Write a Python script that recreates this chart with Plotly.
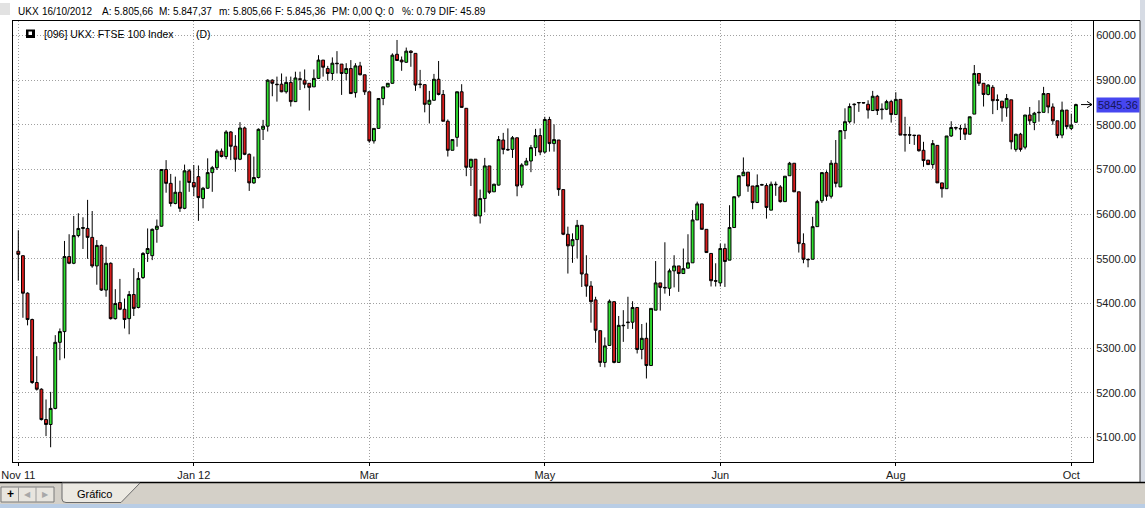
import plotly.graph_objects as go

# ---------------- data ----------------
opens = [
    5517, 5507, 5423, 5364, 5223, 5208, 5140, 5129, 5165, 5313,
    5337, 5505, 5490, 5552, 5568, 5568, 5548, 5484, 5530, 5430,
    5490, 5366, 5402, 5387, 5366, 5420, 5391, 5458, 5512, 5507,
    5566, 5573, 5700, 5669, 5624, 5649, 5613, 5697, 5671, 5684,
    5635, 5658, 5693, 5704, 5741, 5729, 5784, 5752, 5723, 5793,
    5734, 5670, 5682, 5790, 5797, 5900, 5891, 5891, 5874, 5895,
    5852, 5903, 5900, 5893, 5885, 5904, 5945, 5926, 5915, 5938,
    5936, 5915, 5926, 5872, 5932, 5912, 5874, 5764, 5792, 5859,
    5885, 5893, 5958, 5945, 5940, 5965, 5960, 5890, 5890, 5846,
    5855, 5902, 5868, 5808, 5743, 5772, 5874, 5837, 5705, 5723,
    5596, 5635, 5708, 5650, 5665, 5766, 5745, 5745, 5771, 5665,
    5710, 5719, 5749, 5776, 5739, 5812, 5758, 5766, 5655, 5555,
    5529, 5543, 5575, 5466, 5439, 5408, 5339, 5268, 5306, 5404,
    5268, 5350, 5357, 5358, 5391, 5297, 5322, 5261, 5385, 5446,
    5436, 5434, 5473, 5484, 5467, 5479, 5491, 5587, 5623, 5566,
    5512, 5451, 5446, 5523, 5497, 5570, 5641, 5686, 5694, 5663,
    5626, 5665, 5664, 5609, 5667, 5661, 5628, 5686, 5714, 5650,
    5534, 5499, 5499, 5572, 5630, 5693, 5640, 5714, 5661, 5787,
    5807, 5845, 5849, 5850, 5846, 5832, 5864, 5834, 5835, 5852,
    5823, 5857, 5777, 5778, 5777, 5777, 5743, 5721, 5711, 5754,
    5670, 5657, 5775, 5794, 5792, 5792, 5779, 5824, 5915, 5893,
    5868, 5884, 5856, 5853, 5838, 5856, 5745, 5779, 5750, 5822,
    5805, 5827, 5828, 5870, 5840, 5809, 5777, 5833, 5792, 5805.66,
]
highs = [
    5564, 5507, 5425, 5366, 5282, 5210, 5185, 5202, 5329, 5344,
    5540, 5555, 5596, 5602, 5593, 5632, 5607, 5542, 5532, 5527,
    5492, 5432, 5455, 5411, 5428, 5479, 5470, 5515, 5568, 5568,
    5588, 5700, 5721, 5690, 5684, 5675, 5711, 5701, 5710, 5709,
    5661, 5725, 5708, 5745, 5747, 5788, 5786, 5777, 5806, 5796,
    5736, 5729, 5792, 5811, 5902, 5902, 5908, 5915, 5908, 5908,
    5919, 5919, 5924, 5893, 5924, 5956, 5945, 5932, 5951, 5965,
    5936, 5938, 5945, 5938, 5941, 5912, 5874, 5792, 5859, 5885,
    5893, 5960, 5990, 5953, 5973, 5967, 5960, 5923, 5890, 5876,
    5914, 5943, 5878, 5812, 5767, 5874, 5891, 5837, 5723, 5723,
    5655, 5726, 5708, 5668, 5775, 5782, 5792, 5775, 5771, 5714,
    5726, 5755, 5791, 5792, 5818, 5818, 5801, 5766, 5655, 5572,
    5557, 5587, 5575, 5508, 5450, 5415, 5339, 5324, 5409, 5405,
    5372, 5385, 5415, 5405, 5391, 5354, 5357, 5389, 5495, 5446,
    5537, 5478, 5508, 5484, 5523, 5555, 5609, 5628, 5623, 5566,
    5512, 5490, 5534, 5534, 5620, 5639, 5686, 5727, 5694, 5663,
    5689, 5668, 5669, 5673, 5673, 5665, 5685, 5717, 5714, 5650,
    5557, 5500, 5594, 5632, 5693, 5698, 5721, 5766, 5787, 5837,
    5848, 5848, 5850, 5850, 5855, 5876, 5867, 5848, 5856, 5856,
    5873, 5857, 5818, 5796, 5777, 5777, 5762, 5721, 5766, 5754,
    5670, 5775, 5808, 5796, 5800, 5803, 5818, 5934, 5915, 5893,
    5891, 5889, 5868, 5853, 5869, 5856, 5780, 5782, 5822, 5840,
    5829, 5855, 5885, 5870, 5848, 5809, 5852, 5833, 5825, 5847.37,
]
lows = [
    5451, 5368, 5351, 5220, 5205, 5138, 5103, 5078, 5163, 5273,
    5277, 5488, 5488, 5548, 5522, 5500, 5480, 5442, 5428, 5415,
    5364, 5364, 5385, 5344, 5331, 5372, 5389, 5455, 5493, 5497,
    5536, 5572, 5648, 5617, 5622, 5605, 5611, 5650, 5640, 5585,
    5613, 5657, 5650, 5699, 5727, 5723, 5721, 5695, 5721, 5732,
    5652, 5668, 5680, 5766, 5785, 5864, 5852, 5873, 5870, 5841,
    5851, 5878, 5882, 5832, 5885, 5903, 5908, 5899, 5900, 5915,
    5867, 5900, 5870, 5861, 5911, 5867, 5760, 5758, 5791, 5844,
    5884, 5892, 5943, 5921, 5939, 5930, 5876, 5882, 5828, 5803,
    5855, 5866, 5808, 5729, 5743, 5751, 5839, 5685, 5663, 5596,
    5579, 5604, 5645, 5650, 5664, 5734, 5742, 5726, 5640, 5659,
    5710, 5694, 5730, 5732, 5736, 5740, 5740, 5641, 5553, 5467,
    5491, 5501, 5437, 5415, 5357, 5312, 5258, 5257, 5306, 5266,
    5268, 5314, 5343, 5343, 5288, 5275, 5232, 5261, 5385, 5384,
    5422, 5417, 5436, 5426, 5467, 5479, 5491, 5587, 5566, 5514,
    5438, 5438, 5438, 5437, 5497, 5570, 5637, 5686, 5650, 5611,
    5626, 5664, 5590, 5609, 5641, 5626, 5628, 5686, 5650, 5514,
    5490, 5481, 5499, 5572, 5625, 5630, 5635, 5660, 5661, 5768,
    5803, 5803, 5829, 5848, 5814, 5832, 5822, 5812, 5833, 5805,
    5823, 5777, 5740, 5757, 5755, 5740, 5706, 5710, 5702, 5670,
    5637, 5657, 5773, 5788, 5766, 5766, 5779, 5824, 5887, 5841,
    5866, 5824, 5833, 5807, 5818, 5745, 5740, 5740, 5745, 5800,
    5788, 5807, 5828, 5826, 5800, 5770, 5770, 5790, 5788, 5805.66,
]
closes = [
    5510, 5423, 5364, 5223, 5208, 5140, 5129, 5165, 5313, 5337,
    5505, 5490, 5552, 5568, 5570, 5548, 5484, 5530, 5430, 5490,
    5366, 5400, 5387, 5364, 5420, 5389, 5456, 5512, 5523, 5566,
    5573, 5700, 5669, 5624, 5649, 5613, 5697, 5671, 5661, 5637,
    5658, 5693, 5704, 5741, 5729, 5784, 5752, 5723, 5793, 5734,
    5670, 5682, 5790, 5797, 5900, 5893, 5890, 5874, 5895, 5852,
    5905, 5902, 5891, 5884, 5904, 5945, 5929, 5915, 5938, 5937,
    5915, 5926, 5870, 5932, 5912, 5874, 5764, 5792, 5859, 5885,
    5893, 5956, 5944, 5941, 5965, 5962, 5889, 5891, 5846, 5855,
    5902, 5868, 5808, 5743, 5767, 5874, 5839, 5705, 5723, 5596,
    5635, 5708, 5649, 5667, 5767, 5745, 5744, 5771, 5663, 5710,
    5719, 5749, 5776, 5739, 5812, 5758, 5767, 5655, 5555, 5529,
    5543, 5575, 5466, 5439, 5404, 5340, 5268, 5305, 5405, 5268,
    5351, 5351, 5358, 5391, 5297, 5322, 5261, 5389, 5446, 5436,
    5435, 5473, 5484, 5467, 5478, 5491, 5587, 5623, 5566, 5514,
    5451, 5450, 5523, 5494, 5570, 5639, 5686, 5694, 5663, 5626,
    5664, 5666, 5615, 5667, 5666, 5628, 5685, 5714, 5650, 5534,
    5499, 5498, 5572, 5628, 5693, 5640, 5714, 5669, 5787, 5807,
    5841, 5846, 5850, 5849, 5833, 5864, 5832, 5835, 5852, 5823,
    5857, 5777, 5778, 5777, 5776, 5742, 5720, 5711, 5758, 5670,
    5657, 5775, 5794, 5793, 5791, 5779, 5818, 5915, 5893, 5868,
    5889, 5854, 5855, 5838, 5859, 5762, 5779, 5745, 5822, 5809,
    5826, 5828, 5870, 5840, 5809, 5776, 5833, 5796, 5799.47, 5845.36,
]
bar_index = list(range(len(closes)))

x_tick_index = [0, 38, 76, 114, 152, 190, 228]
x_tick_labels = ["Nov 11", "Jan 12", "Mar", "May", "Jun", "Aug", "Oct"]
y_tick_values = [5100, 5200, 5300, 5400, 5500, 5600, 5700, 5800, 5900, 6000]

header_items = ["UKX", "16/10/2012", "A: 5.805,66", "M: 5.847,37", "m: 5.805,66",
                "F: 5.845,36", "PM: 0,00", "Q: 0", "%: 0.79 DIF: 45.89"]
header_px = [16, 40, 100, 157, 217, 273, 330, 373, 400]
series_title = "[096] UKX: FTSE 100 Index"
period_label = "(D)"
tab_label = "Gráfico"

# ---------------- layout helpers (pixel -> paper) ----------------
W, H = 1145, 508
ML, MR, MT, MB = 13, 52, 21, 46
PW, PH = W - ML - MR, H - MT - MB


def px(x):
    return (x - ML) / PW


def py(y):
    return (H - MB - y) / PH


FONT = "Liberation Sans, Arial, sans-serif"

fig = go.Figure()
fig.add_trace(go.Candlestick(
    x=bar_index, open=opens, high=highs, low=lows, close=closes,
    increasing=dict(line=dict(color="black", width=1), fillcolor="#2ee02e"),
    decreasing=dict(line=dict(color="black", width=1), fillcolor="#d81c1c"),
    whiskerwidth=0, showlegend=False, hoverinfo="skip",
))

shapes = []
annotations = []


def label(text, x, y, size=10, color="#000000", xanchor="left", yref="paper"):
    annotations.append(dict(text=text, xref="paper", yref=yref, x=x, y=y,
                            xanchor=xanchor, yanchor="middle", showarrow=False,
                            font=dict(family=FONT, size=size, color=color)))


# header
shapes.append(dict(type="rect", xref="paper", yref="paper", x0=px(0), x1=px(10), y0=py(3), y1=py(15),
                   fillcolor="#e2e2e2", line=dict(width=0)))
for txt, xp in zip(header_items, header_px):
    label(txt, px(xp), py(11), size=10)

# legend box inside plot
shapes.append(dict(type="rect", xref="paper", yref="paper", x0=px(26), x1=px(35), y0=py(29.5), y1=py(38),
                   fillcolor="black", line=dict(width=0)))
shapes.append(dict(type="rect", xref="paper", yref="paper", x0=px(28.5), x1=px(32), y0=py(31.5), y1=py(35),
                   fillcolor="white", line=dict(width=0)))
label(series_title, px(42), py(33.5), size=10.5)
label(period_label, px(194), py(33.5), size=10.5)

# last-value marker on right axis
last = closes[-1]
annotations.append(dict(text=f"{last:.2f}", xref="paper", yref="y", x=px(1096), y=last,
                        xanchor="left", yanchor="middle", showarrow=False,
                        bgcolor="#4646f0", borderpad=1,
                        font=dict(family=FONT, size=11, color="#15155a")))
shapes.append(dict(type="line", xref="paper", yref="y", x0=px(1081), x1=px(1092), y0=last, y1=last,
                   line=dict(color="black", width=1)))
shapes.append(dict(type="line", xref="paper", yref="y", x0=px(1087), x1=px(1092), y0=last + 7, y1=last,
                   line=dict(color="black", width=1)))
shapes.append(dict(type="line", xref="paper", yref="y", x0=px(1087), x1=px(1092), y0=last - 7, y1=last,
                   line=dict(color="black", width=1)))

# right window edge
shapes.append(dict(type="rect", xref="paper", yref="paper", x0=px(1140), x1=px(1145), y0=py(482), y1=py(0),
                   fillcolor="#d6dbe4", line=dict(width=0)))
shapes.append(dict(type="line", xref="paper", yref="paper", x0=px(1140), x1=px(1140), y0=py(482), y1=py(20.5),
                   line=dict(color="#404040", width=1)))
shapes.append(dict(type="line", xref="paper", yref="paper", x0=px(1093), x1=px(1140), y0=py(20.5), y1=py(20.5),
                   line=dict(color="black", width=1)))

# bottom tab bar
shapes.append(dict(type="rect", xref="paper", yref="paper", x0=px(0), x1=px(1145), y0=py(508), y1=py(482.5),
                   fillcolor="#d4d0c8", line=dict(width=0)))
shapes.append(dict(type="rect", xref="paper", yref="paper", x0=px(0), x1=px(1145), y0=py(508), y1=py(504),
                   fillcolor="#b9cde5", line=dict(width=0)))
shapes.append(dict(type="line", xref="paper", yref="paper", x0=px(0), x1=px(1145), y0=py(482.5), y1=py(482.5),
                   line=dict(color="black", width=1.5)))
shapes.append(dict(type="rect", xref="paper", yref="paper", x0=px(1), x1=px(54), y0=py(502), y1=py(487),
                   fillcolor="#e8e5de", line=dict(color="#7a7a7a", width=1)))
for bx in [18.5, 36]:
    shapes.append(dict(type="line", xref="paper", yref="paper", x0=px(bx), x1=px(bx), y0=py(502), y1=py(487),
                       line=dict(color="#9a9a9a", width=1)))
label("<b>+</b>", px(10), py(494.5), size=12, xanchor="center")
label("◀", px(27), py(494.5), size=8, color="#a8a8a8", xanchor="center")
label("▶", px(45), py(494.5), size=8, color="#a8a8a8", xanchor="center")
tab_path = "M {a},{b} L {a},{c} Q {a},{d} {e},{d} L {f},{d} L {g},{b} Z".format(
    a=px(62), b=py(483), c=py(499), d=py(502.5), e=px(66), f=px(121), g=px(140))
shapes.append(dict(type="path", xref="paper", yref="paper", path=tab_path,
                   fillcolor="#ece9e2", line=dict(color="#6a6a6a", width=1)))
label(tab_label, px(94), py(494.5), size=11, xanchor="center")

fig.update_layout(
    width=W, height=H,
    margin=dict(l=ML, r=MR, t=MT, b=MB, pad=0, autoexpand=False),
    paper_bgcolor="white", plot_bgcolor="white",
    shapes=shapes, annotations=annotations,
    showlegend=False, boxgap=0.12,
    font=dict(family=FONT, size=11, color="#202020"),
    xaxis=dict(
        range=[-1.15, 232.7], rangeslider=dict(visible=False), automargin=False,
        tickmode="array", tickvals=x_tick_index, ticktext=x_tick_labels,
        ticks="outside", ticklen=3, tickcolor="black",
        showgrid=True, gridcolor="#a0a0a0", griddash="1px,2px", gridwidth=1,
        showline=True, linecolor="black", linewidth=1, mirror=True, zeroline=False,
        tickfont=dict(family=FONT, size=11, color="#202020"),
    ),
    yaxis=dict(
        side="right", range=[5045, 6032.5], automargin=False,
        tickmode="array", tickvals=y_tick_values,
        ticktext=[f"{v:.2f}" for v in y_tick_values],
        ticks="", showgrid=True, gridcolor="#a0a0a0", griddash="1px,2px", gridwidth=1,
        showline=True, linecolor="black", linewidth=1, mirror=True, zeroline=False,
        tickfont=dict(family=FONT, size=11, color="#202020"),
    ),
)

fig.write_html("out.html", config={"displayModeBar": False},
               post_script="document.body.style.margin='0px';document.body.style.overflow='hidden';")
